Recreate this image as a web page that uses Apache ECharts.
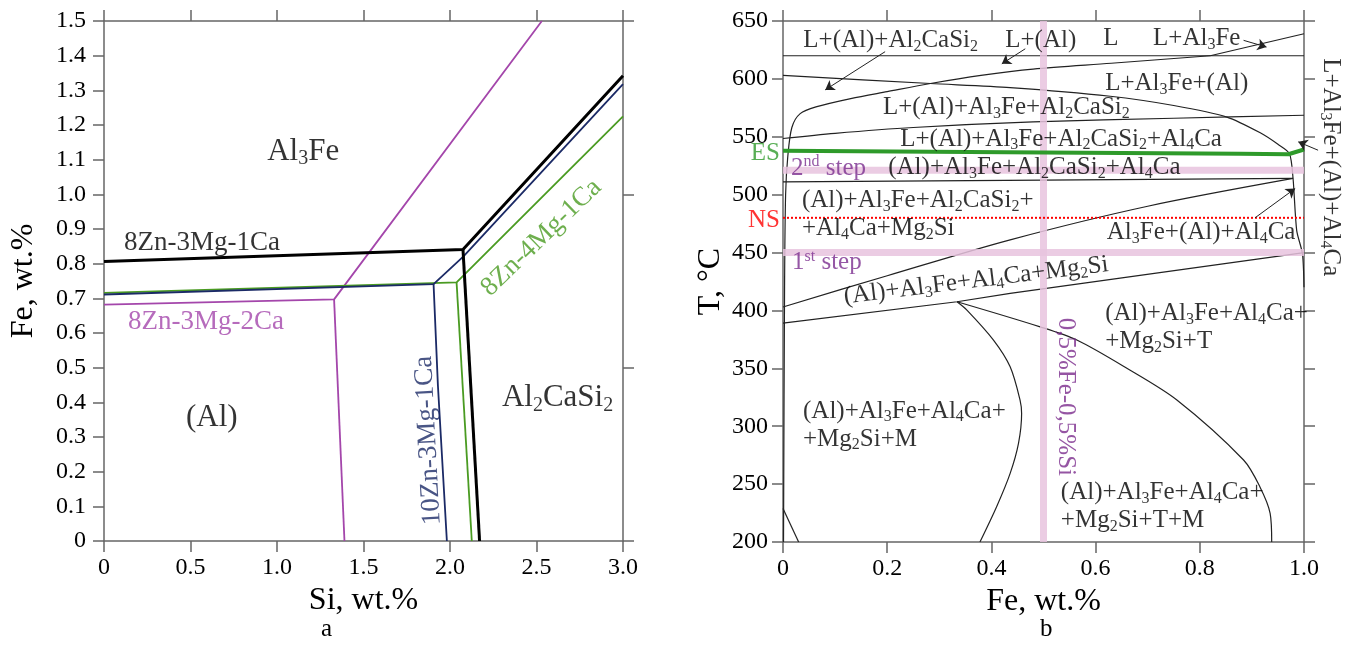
<!DOCTYPE html>
<html>
<head>
<meta charset="utf-8">
<script src="https://cdn.jsdelivr.net/npm/echarts@6/dist/echarts.min.js"></script>
<style>
  html, body { margin: 0; padding: 0; background: #fff; }
  #chart { width: 1354px; height: 646px; }
</style>
</head>
<body>
<div id="chart"></div>
<script>
const FONT = 'Liberation Serif, Times New Roman, serif'

// ---- panel a : Si (x) vs Fe (y), wt.%
const blackLiq = [[0, 0.806], [2.075, 0.841], [3, 1.342]]
const blackSol = [[2.075, 0.841], [2.171, 0]]
const navyLiq = [[0, 0.711], [1.905, 0.741], [2.078, 0.821], [3, 1.318]]
const navySol = [[1.905, 0.741], [1.93, 0.45], [1.982, 0]]
const greenLiq = [[0, 0.716], [2.038, 0.746], [3, 1.225]]
const greenSol = [[2.038, 0.746], [2.126, 0]]
const magentaLiq = [[0, 0.682], [1.33, 0.697], [2.531, 1.5]]
const magentaSol = [[1.33, 0.697], [1.39, 0]]

// ---- panel b : Fe (x) vs T (y)
const line620 = [[0, 620], [1, 620]]
const lineL = [[0.82, 620], [1, 639]]
const liqAl = [[0.001, 200], [0.003, 420], [0.005, 500], [0.009, 532], [0.017, 558], [0.033, 570], [0.065, 576], [0.13, 583], [0.2, 589], [0.283, 596], [0.38, 603], [0.48, 608.5], [0.63, 613.5], [0.82, 620]]
const solAl3Fe = [[0, 603], [0.283, 596], [0.436, 592.5], [0.628, 585], [0.75, 577], [0.852, 567], [0.916, 553.4], [0.95, 543.5], [0.972, 535.5], [0.979, 514], [0.986, 469], [0.997, 449], [1, 420]]
const liqAl4Ca = [[0, 548.5], [0.1, 553], [0.25, 558], [0.48, 562.8], [0.75, 566], [1, 568.6]]
const line512 = [[0, 511], [0.5, 512.5], [0.979, 514]]
const solMg2Si = [[0, 403], [0.2, 430], [0.436, 461], [0.7, 490], [0.979, 514]]
const line389 = [[0, 389], [0.334, 407.5], [0.436, 414.7], [1, 450]]
const solT = [[0.334, 407.5], [0.4936, 385.8], [0.564, 374.4], [0.66, 350], [0.756, 322.6], [0.884, 270.8], [0.915, 248], [0.935, 224.8], [0.938, 200]]
const solM = [[0.334, 407.5], [0.353, 400.3], [0.404, 374.4], [0.436, 351.3], [0.455, 322.6], [0.458, 311], [0.452, 285.2], [0.436, 259.3], [0.41, 230.5], [0.378, 200]]
const lineLow = [[0, 229], [0.03, 200]]
const esLine = [[0, 538], [0.5, 536.5], [0.878, 535.4], [0.97, 534.9], [1, 539]]
const step2T = 521
const step1T = 450
const nsT = 480
const alloyFe = 0.5

const arrows = [
  [[0.196, 623.5], [0.081, 590.5]],
  [[0.465, 626], [0.42, 613]],
  [[0.884, 633.3], [0.928, 627.5]],
  [[1.027, 538.4], [0.989, 545.6]],
  [[0.906, 480], [0.983, 505.3]],
]

// text: [x, y, text, colour, anchor, rotate, size]
const labelsA = [
  [0.943, 1.123, 'Al{s|3}Fe', '#000', 'l', 0, 31],
  [0.116, 0.859, '8Zn-3Mg-1Ca', '#000', 'l', 0, 27],
  [0.139, 0.632, '8Zn-3Mg-2Ca', '#a446ab', 'l', 0, 27],
  [0.474, 0.354, '(Al)', '#000', 'l', 0, 31],
  [2.300, 0.412, 'Al{s|2}CaSi{s|2}', '#000', 'l', 0, 31],
  [1.874, 0.29, '10Zn-3Mg-1Ca', '#1b2a66', 'c', 93, 27],
  [2.528, 0.875, '8Zn-4Mg-1Ca', '#4a9b22', 'c', 44, 27],
]
const labelsB = [
  [0.039, 633.3, 'L+(Al)+Al{s|2}CaSi{s|2}', '#000', 'l', 0, 25],
  [0.4265, 633.3, 'L+(Al)', '#000', 'l', 0, 25],
  [0.6146, 635, 'L', '#000', 'l', 0, 25],
  [0.7103, 635, 'L+Al{s|3}Fe', '#000', 'l', 0, 25],
  [0.6183, 596, 'L+Al{s|3}Fe+(Al)', '#000', 'l', 0, 25],
  [0.1918, 575, 'L+(Al)+Al{s|3}Fe+Al{s|2}CaSi{s|2}', '#000', 'l', 0, 25],
  [0.225, 547.9, 'L+(Al)+Al{s|3}Fe+Al{s|2}CaSi{s|2}+Al{s|4}Ca', '#000', 'l', 0, 25],
  [0.202, 523.3, '(Al)+Al{s|3}Fe+Al{s|2}CaSi{s|2}+Al{s|4}Ca', '#000', 'l', 0, 25],
  [0.0153, 522.8, '2{p|nd} step', '#7b2d8e', 'l', 0, 25],
  [0, 535.5, 'ES', '#2e9a2a', 'r', 0, 25],
  [0, 478, 'NS', '#ff0000', 'r', 0, 25],
  [0.0364, 483, '(Al)+Al{s|3}Fe+Al{s|2}CaSi{s|2}+\n+Al{s|4}Ca+Mg{s|2}Si', '#000', 'l', 0, 25],
  [0.0173, 441.3, '1{p|st} step', '#7b2d8e', 'l', 0, 25],
  [0.6215, 467.2, 'Al{s|3}Fe+(Al)+Al{s|4}Ca', '#000', 'l', 0, 25],
  [0.3708, 425.7, '(Al)+Al{s|3}Fe+Al{s|4}Ca+Mg{s|2}Si', '#000', 'c', 7, 25],
  [0.6183, 385.2, '(Al)+Al{s|3}Fe+Al{s|4}Ca+\n+Mg{s|2}Si+T', '#000', 'l', 0, 25],
  [0.0384, 301, '(Al)+Al{s|3}Fe+Al{s|4}Ca+\n+Mg{s|2}Si+M', '#000', 'l', 0, 25],
  [0.5333, 230.5, '(Al)+Al{s|3}Fe+Al{s|4}Ca+\n+Mg{s|2}Si+T+M', '#000', 'l', 0, 25],
  [0.5417, 325.4, '0,5%Fe-0,5%Si', '#7a2a8c', 'c', -90, 25],
  [1.0518, 523.7, 'L+Al{s|3}Fe+(Al)+Al{s|4}Ca', '#000', 'c', -90, 25],
]

const AXIS_COLOR = '#666'
const fmt1 = (v) => (v === 0 ? '0' : v.toFixed(1))

function makeAxis(grid, pos, min, max, interval, showLabel, extra) {
  return Object.assign({
    type: 'value',
    gridIndex: grid,
    position: pos,
    min, max, interval,
    axisLine: { show: true, onZero: false, lineStyle: { color: AXIS_COLOR, width: 1.5 } },
    axisTick: { show: true, inside: false, length: 11, lineStyle: { color: AXIS_COLOR, width: 1.5 } },
    axisLabel: { show: showLabel, color: '#000', fontFamily: FONT, fontSize: 24, margin: 15 },
    splitLine: { show: false },
    nameTextStyle: { fontFamily: FONT, fontSize: 32, color: '#000' },
  }, extra || {})
}

function lineSeries(data, xi, yi, color, width, extra) {
  return Object.assign({
    type: 'line',
    data,
    xAxisIndex: xi,
    yAxisIndex: yi,
    symbol: 'none',
    silent: true,
    lineStyle: { color, width },
    z: 2,
  }, extra || {})
}

function richFor(color, size) {
  const sub = Math.round(size * 0.64)
  return {
    s: { fontFamily: FONT, fontSize: sub, color, verticalAlign: 'bottom', lineHeight: Math.round(size * 0.56) },
    p: { fontFamily: FONT, fontSize: sub, color, verticalAlign: 'top', lineHeight: Math.round(size * 0.56) },
  }
}

function labelSeries(list, xi, yi) {
  return {
    type: 'scatter',
    xAxisIndex: xi,
    yAxisIndex: yi,
    symbolSize: 0,
    silent: true,
    clip: false,
    z: 10,
    data: list.map(([x, y, text, color, anchor, rot, size]) => ({
      value: [x, y],
      label: {
        show: true,
        position: anchor === 'l' ? 'right' : anchor === 'r' ? 'left' : 'inside',
        distance: anchor === 'r' ? 3 : 0,
        rotate: rot,
        formatter: text,
        color,
        fontFamily: FONT,
        fontSize: size,
        lineHeight: Math.round(size * 1.12),
        rich: richFor(color, size),
      },
    })),
  }
}

const chart = echarts.init(document.getElementById('chart'))

const bandStyle = { z: 3, lineStyle: { color: '#e8c3de', width: 7, opacity: 0.85 } }

const series = [
  // panel a
  lineSeries(magentaLiq, 0, 0, '#a446ab', 1.8),
  lineSeries(magentaSol, 0, 0, '#a446ab', 1.8),
  lineSeries(greenLiq, 0, 0, '#4a9b22', 1.8),
  lineSeries(greenSol, 0, 0, '#4a9b22', 1.8),
  lineSeries(navyLiq, 0, 0, '#1b2a66', 1.8),
  lineSeries(navySol, 0, 0, '#1b2a66', 1.8),
  lineSeries(blackLiq, 0, 0, '#000', 3),
  lineSeries(blackSol, 0, 0, '#000', 3),
  // panel b
  lineSeries(line620, 2, 2, '#222', 1.2),
  lineSeries(lineL, 2, 2, '#222', 1.2),
  lineSeries(liqAl, 2, 2, '#222', 1.2, { smooth: 0.3 }),
  lineSeries(solAl3Fe, 2, 2, '#222', 1.2, { smooth: 0.25 }),
  lineSeries(liqAl4Ca, 2, 2, '#222', 1.2, { smooth: 0.3 }),
  lineSeries(line512, 2, 2, '#222', 1.2),
  lineSeries(solMg2Si, 2, 2, '#222', 1.2, { smooth: 0.3 }),
  lineSeries(line389, 2, 2, '#222', 1.2),
  lineSeries(solT, 2, 2, '#222', 1.2, { smooth: 0.3 }),
  lineSeries(solM, 2, 2, '#222', 1.2, { smooth: 0.3 }),
  lineSeries(lineLow, 2, 2, '#222', 1.2),
  lineSeries([[0, step2T], [1, step2T]], 2, 2, '#e8c3de', 7, bandStyle),
  lineSeries([[0, step1T], [1, step1T]], 2, 2, '#e8c3de', 7, bandStyle),
  lineSeries([[alloyFe, 200], [alloyFe, 650]], 2, 2, '#e8c3de', 7, bandStyle),
  lineSeries([[0, nsT], [1, nsT]], 2, 2, '#ff0000', 2, { z: 4, lineStyle: { color: '#ff0000', width: 2, type: [2, 2] } }),
  lineSeries(esLine, 2, 2, '#2e9a2a', 4, { z: 4 }),
  {
    type: 'lines',
    coordinateSystem: 'cartesian2d',
    xAxisIndex: 2,
    yAxisIndex: 2,
    silent: true,
    clip: false,
    symbol: ['none', 'arrow'],
    symbolSize: 9,
    lineStyle: { color: '#222', width: 1, opacity: 1 },
    data: arrows.map((c) => ({ coords: c })),
    z: 5,
  },
  labelSeries(labelsA, 0, 0),
  labelSeries(labelsB, 2, 2),
]

chart.setOption({
  animation: false,
  backgroundColor: '#fff',
  title: [
    { text: 'a', left: 316, top: 612, textStyle: { fontFamily: FONT, fontSize: 25, fontWeight: 'normal', color: '#000' } },
    { text: 'b', left: 1035, top: 612, textStyle: { fontFamily: FONT, fontSize: 25, fontWeight: 'normal', color: '#000' } },
  ],
  grid: [
    { left: 104, top: 21, width: 519, height: 520 },
    { left: 783, top: 21, width: 521, height: 521 },
  ],
  xAxis: [
    makeAxis(0, 'bottom', 0, 3, 0.5, true, { name: 'Si, wt.%', nameLocation: 'middle', nameGap: 41, axisLabel: { color: '#000', fontFamily: FONT, fontSize: 24, margin: 15, formatter: fmt1 } }),
    makeAxis(0, 'top', 0, 3, 0.5, false),
    makeAxis(1, 'bottom', 0, 1, 0.2, true, { name: 'Fe, wt.%', nameLocation: 'middle', nameGap: 41, axisLabel: { color: '#000', fontFamily: FONT, fontSize: 24, margin: 15, formatter: fmt1 } }),
    makeAxis(1, 'top', 0, 1, 0.2, false),
  ],
  yAxis: [
    makeAxis(0, 'left', 0, 1.5, 0.1, true, { name: 'Fe, wt.%', nameLocation: 'middle', nameGap: 64, axisLabel: { color: '#000', fontFamily: FONT, fontSize: 24, margin: 18, formatter: fmt1 } }),
    makeAxis(0, 'right', 0, 1.5, 0.5, false),
    makeAxis(1, 'left', 200, 650, 50, true, { name: 'T, °C', nameLocation: 'middle', nameGap: 56 }),
    makeAxis(1, 'right', 200, 650, 50, false),
  ],
  series,
})
</script>
</body>
</html>
